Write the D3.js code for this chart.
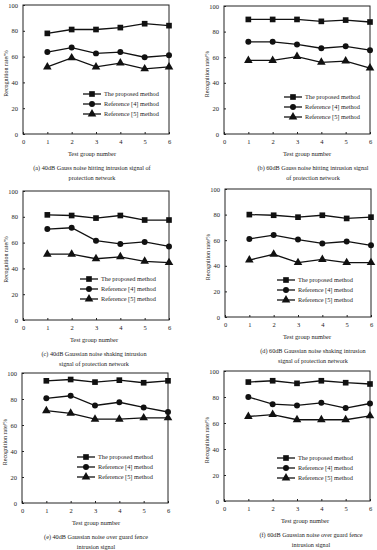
<!DOCTYPE html>
<html><head><meta charset="utf-8">
<script src="https://cdn.jsdelivr.net/npm/d3@7"></script>
<style>body{margin:0;background:#fff}svg{display:block}text{font-family:"Liberation Serif","Times New Roman",serif;fill:#222}</style>
</head><body><svg id="c" width="377" height="550"></svg>
<script>
// ---- data ----
const groups = [1, 2, 3, 4, 5, 6];
const xTicks = [0, 1, 2, 3, 4, 5, 6];
const yTicks = [0, 20, 40, 60, 80, 100];
const seriesNames = ["The proposed method", "Reference [4] method", "Reference [5] method"];
const panelCaptions = [
  ["(a) 40dB Gauss noise hitting intrusion signal of", "protection network"],
  ["(b) 60dB Gauss noise hitting intrusion signal", "of protection network"],
  ["(c) 40dB Gaussian noise shaking intrusion", "signal of protection network"],
  ["(d) 60dB Gaussian noise shaking intrusion", "signal of protection network"],
  ["(e) 40dB Gaussian noise over guard fence", "intrusion signal"],
  ["(f) 60dB Gaussian noise over guard fence", "intrusion signal"]
];
const proposedA = [78, 81, 81, 82.5, 85.5, 84];
const ref4A = [63.5, 67, 62.5, 63.5, 59.5, 61];
const ref5A = [52, 59, 52, 55, 50.5, 52];
const proposedB = [89.5, 89.5, 89.5, 88, 89, 87.5];
const ref4B = [72, 72, 70, 67, 68.5, 65.5];
const ref5B = [57.5, 57.5, 60.5, 56, 57, 51.5];
const proposedC = [81.5, 81, 79, 81, 77.5, 77.5];
const ref4C = [70.5, 71.5, 61.5, 59, 60.5, 57];
const ref5C = [51, 51, 47.5, 49, 45.5, 44.5];
const proposedD = [80, 79.5, 78, 79.5, 77, 78];
const ref4D = [61, 64, 60.5, 57.5, 59, 56];
const ref5D = [44.5, 49, 42.5, 45, 42.5, 42.5];
const proposedE = [94, 95, 93, 94.5, 92.5, 94];
const ref4E = [80.5, 82.5, 75, 77.5, 73.5, 70];
const ref5E = [71, 69, 64.5, 64.5, 65.5, 65.5];
const proposedF = [91.5, 92.5, 90.5, 92.5, 91, 90];
const ref4F = [80, 74.5, 73.5, 75.5, 71.5, 75];
const ref5F = [65, 66.5, 62.5, 62.5, 62.5, 65.5];
const panelSeries = [
  [proposedA, ref4A, ref5A], [proposedB, ref4B, ref5B],
  [proposedC, ref4C, ref5C], [proposedD, ref4D, ref5D],
  [proposedE, ref4E, ref5E], [proposedF, ref4F, ref5F]
];

// ---- layout (pixels) ----
const layout = [
  {L: 23, T: 5, B: 134, lgX: 60, lgY: 89, labX: -4},
  {L: 224, T: 6, B: 134, lgX: 60, lgY: 91, labX: 10},
  {L: 23, T: 191, B: 320, lgX: 57, lgY: 88, labX: -2},
  {L: 225, T: 189, B: 317, lgX: 52, lgY: 91, labX: 9},
  {L: 22, T: 373, B: 503, lgX: 55, lgY: 84, labX: 1},
  {L: 224, T: 371, B: 501, lgX: 53, lgY: 87, labX: 8}
];
const W = 146;
const symbols = [d3.symbolSquare, d3.symbolCircle, d3.symbolTriangle];
const symSizes = [32, 28, 32];

const svg = d3.select("#c");

layout.forEach((p, i) => {
  const g = svg.append("g");
  const x = d3.scaleLinear().domain([0, 6]).range([p.L, p.L + W]);
  const y = d3.scaleLinear().domain([0, 100]).range([p.B, p.T]);

  // box
  g.append("rect").attr("x", p.L).attr("y", p.T).attr("width", W).attr("height", p.B - p.T)
    .attr("fill", "none").attr("stroke", "#222").attr("stroke-width", 1);

  // axes
  const xa = g.append("g").attr("transform", `translate(0,${p.B})`)
    .call(d3.axisBottom(x).tickValues(xTicks).tickFormat(d3.format("d")).tickSizeInner(-2).tickSizeOuter(0).tickPadding(5));
  const ya = g.append("g").attr("transform", `translate(${p.L},0)`)
    .call(d3.axisLeft(y).tickValues(yTicks).tickSizeInner(-2).tickSizeOuter(0).tickPadding(5));
  [xa, ya].forEach(a => {
    a.select(".domain").remove();
    a.selectAll("line").attr("stroke", "#222");
    a.selectAll("text").attr("font-size", 6.5).attr("font-family", "Liberation Serif").attr("fill", "#222");
  });

  // series
  panelSeries[i].forEach((vals, s) => {
    const pts = groups.map((gx, k) => [gx, vals[k]]);
    g.append("path").datum(pts)
      .attr("d", d3.line().x(d => x(d[0])).y(d => y(d[1])))
      .attr("fill", "none").attr("stroke", "#111").attr("stroke-width", 1.3);
    g.selectAll(null).data(pts).enter().append("path")
      .attr("transform", d => `translate(${x(d[0])},${y(d[1])})`)
      .attr("d", d3.symbol().type(symbols[s]).size(symSizes[s]))
      .attr("fill", "#111");
  });

  // legend
  seriesNames.forEach((name, s) => {
    const ly = p.T + p.lgY + s * 10;
    const lx = p.L + p.lgX;
    g.append("line").attr("x1", lx).attr("x2", lx + 18).attr("y1", ly).attr("y2", ly)
      .attr("stroke", "#111").attr("stroke-width", 1.3);
    g.append("path").attr("transform", `translate(${lx + 9},${ly})`)
      .attr("d", d3.symbol().type(symbols[s]).size(symSizes[s])).attr("fill", "#111");
    g.append("text").attr("x", lx + 21).attr("y", ly).attr("dy", "0.35em")
      .attr("font-size", 6.3).text(name);
  });

  // axis titles
  const cx = p.L + W / 2 + p.labX;
  g.append("text").attr("x", cx).attr("y", p.B + 20).attr("dy", "0.35em")
    .attr("text-anchor", "middle").attr("font-size", 6.4).text("Test group number");
  g.append("text").attr("transform", `translate(${p.L - 17},${(p.T + p.B) / 2 + 4}) rotate(-90)`)
    .attr("dy", "0.35em").attr("text-anchor", "middle").attr("font-size", 6).text("Recognition rate/%");

  // caption
  panelCaptions[i].forEach((line, k) => {
    g.append("text").attr("x", cx + (i % 2 ? 6 : 0)).attr("y", p.B + 34 + k * 9.5).attr("dy", "0.35em")
      .attr("text-anchor", "middle").attr("font-size", 6.2).text(line);
  });
});
</script></body></html>
